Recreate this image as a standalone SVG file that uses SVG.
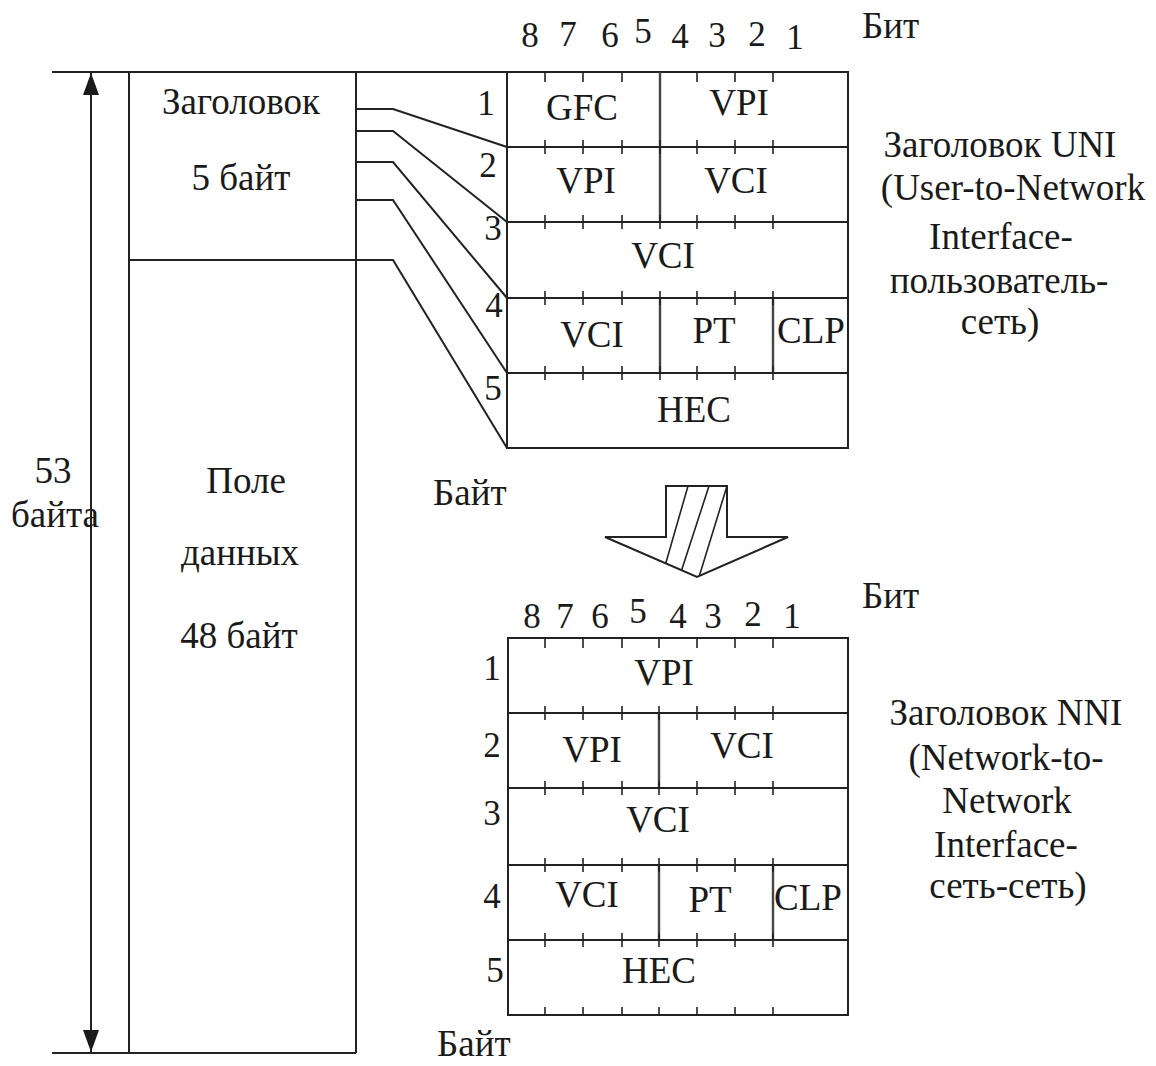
<svg xmlns="http://www.w3.org/2000/svg" width="1156" height="1066" viewBox="0 0 1156 1066">
<style>
text{font-family:"Liberation Serif","Times New Roman",serif;font-size:37px;fill:#1a1a1a;text-anchor:middle}
.dg{font-size:35px}
.st{text-anchor:start}
.ln{fill:none;stroke:#222;stroke-width:2}
.dv{fill:none;stroke:#444;stroke-width:2.4}
.tk{fill:none;stroke:#222;stroke-width:1.6}
</style>
<defs>
<marker id="ah" viewBox="0 0 22 16" refX="22" refY="8" markerWidth="22" markerHeight="16" markerUnits="userSpaceOnUse" orient="auto">
<path d="M0,0 L22,8 L0,16 Z" fill="#1a1a1a"/>
</marker>
<clipPath id="arrowClip"><polygon points="666,486 727,486 727,537 788,537 697,577 605,537 666,537"/></clipPath>
</defs>
<rect width="1156" height="1066" fill="#fff"/>

<g id="cell">
<line class="ln" x1="52" y1="72" x2="848" y2="72"/>
<line class="ln" x1="52" y1="1053" x2="356" y2="1053"/>
<line class="ln" x1="129" y1="72" x2="129" y2="1053"/>
<line class="ln" x1="356" y1="72" x2="356" y2="1053"/>
<line class="ln" x1="129" y1="260" x2="356" y2="260"/>
<text x="241" y="114">Заголовок</text>
<text x="241" y="190">5 байт</text>
<text x="246" y="493">Поле</text>
<text x="240" y="565">данных</text>
<text x="239" y="648">48 байт</text>
</g>

<g id="size-label">
<text x="53" y="483">53</text>
<text x="55" y="527">байта</text>
</g>

<g id="connectors">
<line class="ln" x1="91" y1="560" x2="91" y2="73" marker-end="url(#ah)"/>
<line class="ln" x1="91" y1="560" x2="91" y2="1052" marker-end="url(#ah)"/>
<polyline class="ln" points="356,109 393,109 507,147"/>
<polyline class="ln" points="356,131 393,131 507,222"/>
<polyline class="ln" points="356,162 393,162 507,298"/>
<polyline class="ln" points="356,200 393,200 507,373"/>
<polyline class="ln" points="356,260 393,260 507,448"/>
</g>

<g id="uni">
<text class="dg" x="530" y="47">8</text>
<text class="dg" x="568" y="46">7</text>
<text class="dg" x="610" y="47">6</text>
<text class="dg" x="643" y="43">5</text>
<text class="dg" x="680" y="48">4</text>
<text class="dg" x="717" y="47">3</text>
<text class="dg" x="757" y="46">2</text>
<text class="dg" x="795" y="49">1</text>
<text class="st" x="862" y="38">Бит</text>
<rect class="ln" x="507" y="72" width="341" height="376"/>
<path class="ln" d="M507,147H848M507,222H848M507,298H848M507,373H848"/>
<path class="dv" d="M660,72V222M660,298V373M773,298V373"/>
<path class="tk" d="M545,72v10M583,72v10M622,72v10M697,72v10M735,72v10M773,72v10
M545,140v14M583,140v14M622,140v14M660,140v14M697,140v14M735,140v14M773,140v14
M545,215v14M583,215v14M622,215v14M660,215v14M697,215v14M735,215v14M773,215v14
M545,291v14M583,291v14M622,291v14M660,291v14M697,291v14M735,291v14M773,291v14
M545,366v14M583,366v14M622,366v14M660,366v14M697,366v14M735,366v14M773,366v14"/>
<text class="dg" x="486" y="115">1</text>
<text class="dg" x="488" y="177">2</text>
<text class="dg" x="493" y="240">3</text>
<text class="dg" x="494" y="317">4</text>
<text class="dg" x="493" y="400">5</text>
<text x="582" y="120">GFC</text>
<text x="739" y="115">VPI</text>
<text x="586" y="193">VPI</text>
<text x="736" y="193">VCI</text>
<text x="663" y="268">VCI</text>
<text x="592" y="347">VCI</text>
<text x="714" y="343">PT</text>
<text x="811" y="343">CLP</text>
<text x="694" y="422">HEC</text>
<text class="st" x="433" y="505">Байт</text>
</g>

<g id="uni-caption">
<text x="1000" y="157">Заголовок UNI</text>
<text x="1013" y="200">(User-to-Network</text>
<text x="1001" y="249">Interface-</text>
<text x="999" y="293">пользователь-</text>
<text x="1000" y="334">сеть)</text>
</g>

<g id="big-arrow">
<g clip-path="url(#arrowClip)">
<path class="tk" d="M688,486L665,566M709,486L681,572M727,486L699,577"/>
</g>
<polygon class="ln" points="666,486 727,486 727,537 788,537 697,577 605,537 666,537"/>
</g>

<g id="nni">
<text class="dg" x="532" y="628">8</text>
<text class="dg" x="565" y="628">7</text>
<text class="dg" x="600" y="628">6</text>
<text class="dg" x="638" y="623">5</text>
<text class="dg" x="678" y="628">4</text>
<text class="dg" x="713" y="628">3</text>
<text class="dg" x="753" y="626">2</text>
<text class="dg" x="792" y="628">1</text>
<text class="st" x="862" y="608">Бит</text>
<rect class="ln" x="508" y="638" width="340" height="377"/>
<path class="ln" d="M508,713H848M508,788H848M508,865H848M508,940H848"/>
<path class="dv" d="M659,713V788M659,865V940M773,865V940"/>
<path class="tk" d="M545,638v10M583,638v10M622,638v10M659,638v10M697,638v10M735,638v10M773,638v10
M545,706v14M583,706v14M622,706v14M659,706v14M697,706v14M735,706v14M773,706v14
M545,781v14M583,781v14M622,781v14M659,781v14M697,781v14M735,781v14M773,781v14
M545,858v14M583,858v14M622,858v14M659,858v14M697,858v14M735,858v14M773,858v14
M545,933v14M583,933v14M622,933v14M659,933v14M697,933v14M735,933v14M773,933v14
M545,1007v8M583,1007v8M622,1007v8M659,1007v8M697,1007v8M735,1007v8M773,1007v8"/>
<text class="dg" x="492" y="680">1</text>
<text class="dg" x="492" y="757">2</text>
<text class="dg" x="492" y="825">3</text>
<text class="dg" x="492" y="908">4</text>
<text class="dg" x="495" y="982">5</text>
<text x="664" y="685">VPI</text>
<text x="592" y="762">VPI</text>
<text x="742" y="758">VCI</text>
<text x="658" y="832">VCI</text>
<text x="587" y="907">VCI</text>
<text x="710" y="912">PT</text>
<text x="808" y="910">CLP</text>
<text x="659" y="983">HEC</text>
<text class="st" x="437" y="1056">Байт</text>
</g>

<g id="nni-caption">
<text x="1006" y="725">Заголовок NNI</text>
<text x="1006" y="770">(Network-to-</text>
<text x="1007" y="813">Network</text>
<text x="1006" y="857">Interface-</text>
<text x="1008" y="898">сеть-сеть)</text>
</g>
</svg>
